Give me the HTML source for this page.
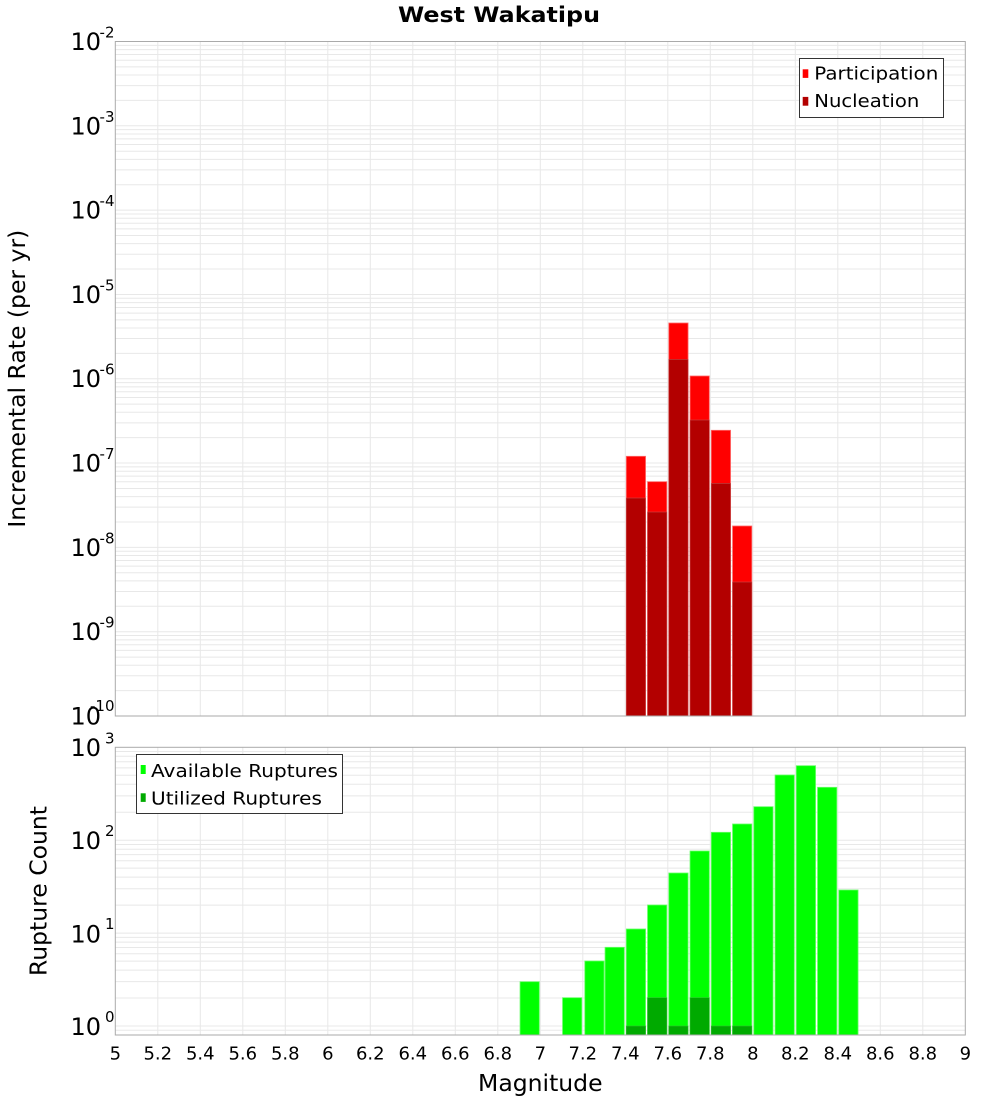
<!DOCTYPE html>
<html><head><meta charset="utf-8"><style>
html,body{margin:0;padding:0;background:#fff;}
svg{display:block;}
text{font-family:"DejaVu Sans","Liberation Sans",sans-serif;fill:#000;}
</style></head><body>
<svg width="1000" height="1100" viewBox="0 0 1000 1100" xmlns="http://www.w3.org/2000/svg">
<defs>
<g id="dt" stroke="#e8e8e8" stroke-width="1">
<line x1="115.3" x2="965.3" y1="0" y2="0"/>
<line x1="115.3" x2="965.3" y1="-25.38" y2="-25.38"/>
<line x1="115.3" x2="965.3" y1="-40.23" y2="-40.23"/>
<line x1="115.3" x2="965.3" y1="-50.76" y2="-50.76"/>
<line x1="115.3" x2="965.3" y1="-58.93" y2="-58.93"/>
<line x1="115.3" x2="965.3" y1="-65.61" y2="-65.61"/>
<line x1="115.3" x2="965.3" y1="-71.25" y2="-71.25"/>
<line x1="115.3" x2="965.3" y1="-76.14" y2="-76.14"/>
<line x1="115.3" x2="965.3" y1="-80.45" y2="-80.45"/>
</g>
<g id="db" stroke="#e8e8e8" stroke-width="1">
<line x1="115.3" x2="965.3" y1="0" y2="0"/>
<line x1="115.3" x2="965.3" y1="-27.97" y2="-27.97"/>
<line x1="115.3" x2="965.3" y1="-44.32" y2="-44.32"/>
<line x1="115.3" x2="965.3" y1="-55.93" y2="-55.93"/>
<line x1="115.3" x2="965.3" y1="-64.93" y2="-64.93"/>
<line x1="115.3" x2="965.3" y1="-72.29" y2="-72.29"/>
<line x1="115.3" x2="965.3" y1="-78.51" y2="-78.51"/>
<line x1="115.3" x2="965.3" y1="-83.90" y2="-83.90"/>
<line x1="115.3" x2="965.3" y1="-88.65" y2="-88.65"/>
</g>
</defs>

<!-- Title -->
<text x="398" y="22" font-size="21" font-weight="bold" textLength="202" lengthAdjust="spacingAndGlyphs">West Wakatipu</text>

<!-- TOP PLOT -->
<rect x="115.3" y="41.5" width="850" height="674.5" fill="#fff"/>
<g>
<use href="#dt" transform="translate(0,716)"/>
<use href="#dt" transform="translate(0,631.69)"/>
<use href="#dt" transform="translate(0,547.38)"/>
<use href="#dt" transform="translate(0,463.06)"/>
<use href="#dt" transform="translate(0,378.75)"/>
<use href="#dt" transform="translate(0,294.44)"/>
<use href="#dt" transform="translate(0,210.13)"/>
<use href="#dt" transform="translate(0,125.81)"/>
</g>
<g stroke="#e8e8e8" stroke-width="1">
<line x1="157.8" x2="157.8" y1="41.5" y2="716"/>
<line x1="200.3" x2="200.3" y1="41.5" y2="716"/>
<line x1="242.8" x2="242.8" y1="41.5" y2="716"/>
<line x1="285.3" x2="285.3" y1="41.5" y2="716"/>
<line x1="327.8" x2="327.8" y1="41.5" y2="716"/>
<line x1="370.3" x2="370.3" y1="41.5" y2="716"/>
<line x1="412.8" x2="412.8" y1="41.5" y2="716"/>
<line x1="455.3" x2="455.3" y1="41.5" y2="716"/>
<line x1="497.8" x2="497.8" y1="41.5" y2="716"/>
<line x1="540.3" x2="540.3" y1="41.5" y2="716"/>
<line x1="582.8" x2="582.8" y1="41.5" y2="716"/>
<line x1="625.3" x2="625.3" y1="41.5" y2="716"/>
<line x1="667.8" x2="667.8" y1="41.5" y2="716"/>
<line x1="710.3" x2="710.3" y1="41.5" y2="716"/>
<line x1="752.8" x2="752.8" y1="41.5" y2="716"/>
<line x1="795.3" x2="795.3" y1="41.5" y2="716"/>
<line x1="837.8" x2="837.8" y1="41.5" y2="716"/>
<line x1="880.3" x2="880.3" y1="41.5" y2="716"/>
<line x1="922.8" x2="922.8" y1="41.5" y2="716"/>
</g>

<!-- Participation bars -->
<g fill="#ff0000" stroke="#ff6a6a" stroke-width="0.8">
<rect x="626.3" y="456.3" width="19.25" height="259.7"/>
<rect x="647.55" y="481.7" width="19.25" height="234.3"/>
<rect x="668.8" y="323" width="19.25" height="393"/>
<rect x="690.05" y="376" width="19.25" height="340"/>
<rect x="711.3" y="430.3" width="19.25" height="285.7"/>
<rect x="732.55" y="526" width="19.25" height="190"/>
</g>
<!-- Nucleation bars -->
<g fill="#b30000" stroke="#c84a4a" stroke-width="0.6">
<rect x="626.3" y="498" width="19.25" height="218"/>
<rect x="647.55" y="512" width="19.25" height="204"/>
<rect x="668.8" y="359.3" width="19.25" height="356.7"/>
<rect x="690.05" y="420" width="19.25" height="296"/>
<rect x="711.3" y="483.3" width="19.25" height="232.7"/>
<rect x="732.55" y="582" width="19.25" height="134"/>
</g>

<rect x="115.3" y="41.5" width="850" height="674.5" fill="none" stroke="#aaaaaa" stroke-width="1"/>

<!-- Top legend -->
<rect x="799.5" y="58.5" width="144" height="59" fill="#fff" stroke="#333" stroke-width="1"/>
<rect x="802.7" y="69.3" width="5.6" height="8.6" fill="#ff0000"/>
<rect x="802.7" y="96.9" width="5.6" height="8.8" fill="#b30000"/>
<text x="814.3" y="79.5" font-size="18" textLength="124" lengthAdjust="spacingAndGlyphs">Participation</text>
<text x="814.3" y="106.8" font-size="18" textLength="105" lengthAdjust="spacingAndGlyphs">Nucleation</text>

<!-- Top y tick labels -->
<g font-size="24" text-anchor="end">
<text x="101" y="50">10</text>
<text x="101" y="134.3">10</text>
<text x="101" y="218.6">10</text>
<text x="101" y="302.9">10</text>
<text x="101" y="387.2">10</text>
<text x="101" y="471.6">10</text>
<text x="101" y="555.9">10</text>
<text x="101" y="640.2">10</text>
<text x="101" y="724.5">10</text>
</g>
<g font-size="15" text-anchor="end">
<text x="114.5" y="37.5">-2</text>
<text x="114.5" y="121.8">-3</text>
<text x="114.5" y="206.1">-4</text>
<text x="114.5" y="290.4">-5</text>
<text x="114.5" y="374.7">-6</text>
<text x="114.5" y="459.1">-7</text>
<text x="114.5" y="543.4">-8</text>
<text x="114.5" y="627.7">-9</text>
<text x="114.5" y="711">-10</text>
</g>

<text transform="translate(25,378.7) rotate(-90)" text-anchor="middle" font-size="23.5">Incremental Rate (per yr)</text>

<!-- BOTTOM PLOT -->
<rect x="115.3" y="747.3" width="850" height="287.7" fill="#fff"/>
<g>
<use href="#db" transform="translate(0,1026)"/>
<use href="#db" transform="translate(0,933.1)"/>
<use href="#db" transform="translate(0,840.2)"/>
</g>
<line x1="115.3" x2="965.3" y1="1030.25" y2="1030.25" stroke="#e8e8e8" stroke-width="1"/>
<g stroke="#e8e8e8" stroke-width="1">
<line x1="157.8" x2="157.8" y1="747.3" y2="1035"/>
<line x1="200.3" x2="200.3" y1="747.3" y2="1035"/>
<line x1="242.8" x2="242.8" y1="747.3" y2="1035"/>
<line x1="285.3" x2="285.3" y1="747.3" y2="1035"/>
<line x1="327.8" x2="327.8" y1="747.3" y2="1035"/>
<line x1="370.3" x2="370.3" y1="747.3" y2="1035"/>
<line x1="412.8" x2="412.8" y1="747.3" y2="1035"/>
<line x1="455.3" x2="455.3" y1="747.3" y2="1035"/>
<line x1="497.8" x2="497.8" y1="747.3" y2="1035"/>
<line x1="540.3" x2="540.3" y1="747.3" y2="1035"/>
<line x1="582.8" x2="582.8" y1="747.3" y2="1035"/>
<line x1="625.3" x2="625.3" y1="747.3" y2="1035"/>
<line x1="667.8" x2="667.8" y1="747.3" y2="1035"/>
<line x1="710.3" x2="710.3" y1="747.3" y2="1035"/>
<line x1="752.8" x2="752.8" y1="747.3" y2="1035"/>
<line x1="795.3" x2="795.3" y1="747.3" y2="1035"/>
<line x1="837.8" x2="837.8" y1="747.3" y2="1035"/>
<line x1="880.3" x2="880.3" y1="747.3" y2="1035"/>
<line x1="922.8" x2="922.8" y1="747.3" y2="1035"/>
</g>

<!-- Available ruptures -->
<g fill="#00ff00" stroke="#66ff66" stroke-width="0.8">
<rect x="520.05" y="981.7" width="19.25" height="53.3"/>
<rect x="562.55" y="997.7" width="19.25" height="37.3"/>
<rect x="584.8" y="961" width="19.25" height="74"/>
<rect x="605.05" y="947.3" width="19.25" height="87.7"/>
<rect x="626.3" y="929" width="19.25" height="106"/>
<rect x="647.55" y="905" width="19.25" height="130"/>
<rect x="668.8" y="873" width="19.25" height="162"/>
<rect x="690.05" y="851" width="19.25" height="184"/>
<rect x="711.3" y="832.3" width="19.25" height="202.7"/>
<rect x="732.55" y="824" width="19.25" height="211"/>
<rect x="753.8" y="806.7" width="19.25" height="228.3"/>
<rect x="775.05" y="775" width="19.25" height="260"/>
<rect x="796.3" y="765.7" width="19.25" height="269.3"/>
<rect x="817.55" y="787.3" width="19.25" height="247.7"/>
<rect x="838.8" y="890" width="19.25" height="145"/>
</g>
<!-- Utilized ruptures -->
<g fill="#00aa00" stroke="#33bb33" stroke-width="0.6">
<rect x="626.3" y="1026" width="19.25" height="9"/>
<rect x="647.55" y="997.7" width="19.25" height="37.3"/>
<rect x="668.8" y="1026" width="19.25" height="9"/>
<rect x="690.05" y="997.7" width="19.25" height="37.3"/>
<rect x="711.3" y="1026" width="19.25" height="9"/>
<rect x="732.55" y="1026" width="19.25" height="9"/>
</g>

<rect x="115.3" y="747.3" width="850" height="287.7" fill="none" stroke="#aaaaaa" stroke-width="1"/>

<!-- Bottom legend -->
<rect x="136.5" y="754.5" width="206" height="59" fill="#fff" stroke="#333" stroke-width="1"/>
<rect x="140.7" y="765" width="5" height="9" fill="#00ff00"/>
<rect x="140.7" y="793.3" width="5" height="8.6" fill="#00aa00"/>
<text x="151" y="776.8" font-size="18" textLength="187" lengthAdjust="spacingAndGlyphs">Available Ruptures</text>
<text x="151" y="804.4" font-size="18" textLength="171" lengthAdjust="spacingAndGlyphs">Utilized Ruptures</text>

<!-- Bottom y tick labels -->
<g font-size="24" text-anchor="end">
<text x="101" y="756">10</text>
<text x="101" y="942.3">10</text>
<text x="101" y="849.2">10</text>
<text x="101" y="1035">10</text>
</g>
<g font-size="15" text-anchor="end">
<text x="114.5" y="743.3">3</text>
<text x="114.5" y="836.2">2</text>
<text x="114.5" y="929.1">1</text>
<text x="114.5" y="1022">0</text>
</g>

<text transform="translate(46.5,891) rotate(-90)" text-anchor="middle" font-size="23.5">Rupture Count</text>

<!-- X tick labels -->
<g font-size="18" text-anchor="middle">
<text x="115.3" y="1059.3">5</text>
<text x="157.8" y="1059.3">5.2</text>
<text x="200.3" y="1059.3">5.4</text>
<text x="242.8" y="1059.3">5.6</text>
<text x="285.3" y="1059.3">5.8</text>
<text x="327.8" y="1059.3">6</text>
<text x="370.3" y="1059.3">6.2</text>
<text x="412.8" y="1059.3">6.4</text>
<text x="455.3" y="1059.3">6.6</text>
<text x="497.8" y="1059.3">6.8</text>
<text x="540.3" y="1059.3">7</text>
<text x="582.8" y="1059.3">7.2</text>
<text x="625.3" y="1059.3">7.4</text>
<text x="667.8" y="1059.3">7.6</text>
<text x="710.3" y="1059.3">7.8</text>
<text x="752.8" y="1059.3">8</text>
<text x="795.3" y="1059.3">8.2</text>
<text x="837.8" y="1059.3">8.4</text>
<text x="880.3" y="1059.3">8.6</text>
<text x="922.8" y="1059.3">8.8</text>
<text x="965.3" y="1059.3">9</text>
</g>

<text x="540.3" y="1091" text-anchor="middle" font-size="23.5">Magnitude</text>
</svg>
</body></html>
